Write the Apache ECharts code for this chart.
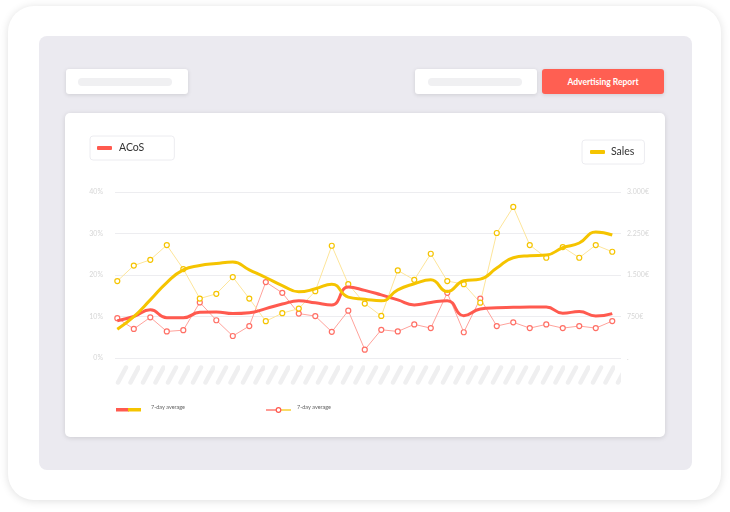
<!DOCTYPE html>
<html>
<head>
<meta charset="utf-8">
<script src="https://cdn.jsdelivr.net/npm/echarts@6/dist/echarts.min.js"></script>
<style>
  html, body { margin: 0; padding: 0; background: #fff; width: 730px; height: 512px; overflow: hidden; font-family: Lato, "Open Sans", sans-serif; }
  .outer { position: absolute; left: 8px; top: 6px; width: 713px; height: 494px; border-radius: 26px; background: #fff; box-shadow: 0 1px 8px rgba(0,0,0,0.13); }
  .panel { position: absolute; left: 39px; top: 36px; width: 653px; height: 434px; border-radius: 8px; background: #ebeaf0; }
  .btn { position: absolute; top: 69px; width: 122px; height: 25px; border-radius: 3px; background: #fff; box-shadow: 0 1px 4px rgba(0,0,0,0.12); }
  .btn i { position: absolute; left: 13px; top: 9px; width: 94px; height: 8px; border-radius: 4px; background: #f0f0f2; }
  .btn.red { background: #ff5f52; color: #fff; font-size: 8.5px; font-weight: bold; text-align: center; line-height: 26px; }
  .card { position: absolute; left: 65px; top: 113px; width: 600px; height: 324px; border-radius: 5px; background: #fff; box-shadow: 0 1px 5px rgba(0,0,0,0.13); }
  #chart { position: absolute; left: 0; top: 0; width: 730px; height: 512px; }
</style>
</head>
<body>
<div class="outer"></div>
<div class="panel"></div>
<div class="btn" style="left:66px"><i style="left:12px"></i></div>
<div class="btn" style="left:415px"><i></i></div>
<div class="btn red" style="left:542px">Advertising Report</div>
<div class="card"></div>
<div id="chart"></div>
<script>
// daily ACoS (%) and its 7-day average
var acosDaily = [9.6, 7.0, 9.8, 6.4, 6.7, 13.4, 9.1, 5.3, 7.7, 18.3, 15.7, 10.7, 10.1, 6.3, 11.4, 2.0,
  6.8, 6.4, 8.1, 7.2, 15.7, 6.2, 14.3, 7.7, 8.6, 7.2, 8.1, 7.2, 7.7, 7.2, 8.9];
var acosAvg = [9.0, 10.0, 11.6, 9.7, 9.7, 11.0, 11.1, 10.7, 10.9, 11.9, 13.0, 13.8, 13.3, 12.8, 17.1, 16.3,
  15.2, 14.0, 12.8, 13.4, 13.8, 10.2, 11.8, 12.1, 12.2, 12.3, 12.3, 10.8, 11.2, 10.1, 10.7];
// daily sales (€) and its 7-day average
var salesDaily = [1390, 1670, 1775, 2040, 1607, 1074, 1160, 1462, 1074, 665, 810, 893, 1208, 2029, 1335, 984,
  760, 1582, 1413, 1884, 1390, 1335, 1000, 2259, 2730, 2041, 1812, 2005, 1812, 2041, 1920];
var salesAvg = [520, 748, 1050, 1364, 1594, 1672, 1708, 1734, 1594, 1455, 1310, 1196, 1250, 1335, 1100, 1063,
  1033, 1232, 1341, 1413, 1201, 1395, 1426, 1625, 1812, 1848, 1860, 1993, 2078, 2277, 2223];

var legendLabels = ['ACoS', 'Sales'];
var bottomLabels = ['7-day average', '7-day average'];
var red = '#ff5a4f', yellow = '#f5c400';

function pairs(arr) {
  return arr.map(function (v, i) { return [i, v]; });
}
function euro(v) {
  if (v === 0) return '.';
  return String(v).replace(/\B(?=(\d{3})+(?!\d))/g, '.') + '€';
}

// hatched placeholder for the x axis labels
var hatch = document.createElement('canvas');
hatch.width = 25; hatch.height = 20;
var hc = hatch.getContext('2d');
hc.strokeStyle = '#efeff0';
hc.lineWidth = 4.5;
hc.lineCap = 'round';
[3, 15.5].forEach(function (x0) {
  hc.beginPath();
  hc.moveTo(x0, 17.5);
  hc.lineTo(x0 + 8, 2.5);
  hc.stroke();
});

var chart = echarts.init(document.getElementById('chart'));
var axisText = { color: '#d6d6d6', fontSize: 7, fontFamily: 'Lato' };

chart.setOption({
  animation: false,
  grid: { left: 115, right: 109, top: 192, bottom: 154 },
  legend: [
    {
      data: [legendLabels[0]], left: 90, top: 136, selectedMode: false,
      icon: 'roundRect', itemWidth: 15, itemHeight: 4, itemGap: 0,
      padding: [5, 30, 5, 7], backgroundColor: '#fff', borderColor: '#ececf0', borderWidth: 1, borderRadius: 3,
      textStyle: { fontSize: 10.5, color: '#333', fontFamily: 'Lato', lineHeight: 14, padding: [0, 0, 0, 2] }
    },
    {
      data: [legendLabels[1]], left: 582, top: 140, selectedMode: false,
      icon: 'roundRect', itemWidth: 15, itemHeight: 4, itemGap: 0,
      padding: [5, 10, 5, 8], backgroundColor: '#fff', borderColor: '#ececf0', borderWidth: 1, borderRadius: 3,
      textStyle: { fontSize: 10.5, color: '#333', fontFamily: 'Lato', lineHeight: 14, padding: [0, 0, 0, 1] }
    }
  ],
  xAxis: { type: 'value', min: -0.14, max: 30.53, show: false },
  yAxis: [
    {
      type: 'value', min: 0, max: 40, interval: 10,
      axisLine: { show: false }, axisTick: { show: false },
      axisLabel: Object.assign({ formatter: '{value}%', margin: 12 }, axisText),
      splitLine: { lineStyle: { color: '#ededf0', width: 1 } }
    },
    {
      type: 'value', min: 0, max: 3000, interval: 750,
      axisLine: { show: false }, axisTick: { show: false },
      axisLabel: Object.assign({ formatter: euro, margin: 6 }, axisText),
      splitLine: { show: false }
    }
  ],
  series: [
    {
      name: 'ACoS daily', type: 'line', yAxisIndex: 0, data: pairs(acosDaily),
      symbol: 'circle', symbolSize: 5, z: 2,
      lineStyle: { color: '#ffa29b', width: 1 },
      itemStyle: { color: '#fff', borderColor: '#ff6f65', borderWidth: 1.2 }
    },
    {
      name: 'Sales daily', type: 'line', yAxisIndex: 1, data: pairs(salesDaily),
      symbol: 'circle', symbolSize: 5, z: 2,
      lineStyle: { color: '#fde59a', width: 1 },
      itemStyle: { color: '#fff', borderColor: '#f5c400', borderWidth: 1.2 }
    },
    {
      name: 'ACoS', type: 'line', yAxisIndex: 0, data: pairs(acosAvg),
      smooth: 0.5, showSymbol: false, z: 3,
      lineStyle: { color: red, width: 3 }, itemStyle: { color: red }
    },
    {
      name: 'Sales', type: 'line', yAxisIndex: 1, data: pairs(salesAvg),
      smooth: 0.5, showSymbol: false, z: 3,
      lineStyle: { color: yellow, width: 3 }, itemStyle: { color: yellow }
    }
  ],
  graphic: [
    { type: 'rect', x: 115, y: 365, shape: { x: 0, y: 0, width: 506, height: 20 },
      style: { fill: { image: hatch, repeat: 'repeat' } }, silent: true },
    { type: 'rect', x: 116, y: 408, shape: { x: 0, y: 0, width: 13, height: 3.5 }, style: { fill: red } },
    { type: 'rect', x: 128, y: 408, shape: { x: 0, y: 0, width: 13, height: 3.5 }, style: { fill: yellow } },
    { type: 'text', x: 151, y: 407, style: { text: bottomLabels[0], fontSize: 5.5, fill: '#666', fontFamily: 'Lato', verticalAlign: 'middle' } },
    { type: 'line', shape: { x1: 266, y1: 410, x2: 278, y2: 410 }, style: { stroke: red, lineWidth: 1.2 } },
    { type: 'line', shape: { x1: 278, y1: 410, x2: 291, y2: 410 }, style: { stroke: yellow, lineWidth: 1.2 } },
    { type: 'circle', shape: { cx: 278.5, cy: 410, r: 2.3 }, style: { fill: '#fff', stroke: red, lineWidth: 1.2 } },
    { type: 'text', x: 297, y: 407, style: { text: bottomLabels[1], fontSize: 5.5, fill: '#666', fontFamily: 'Lato', verticalAlign: 'middle' } }
  ]
});
</script>
</body>
</html>
